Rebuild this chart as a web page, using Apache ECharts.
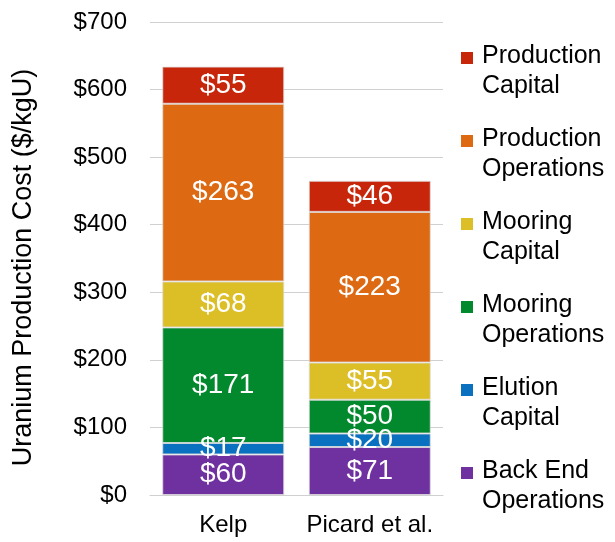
<!DOCTYPE html>
<html>
<head>
<meta charset="utf-8">
<script src="https://cdn.jsdelivr.net/npm/echarts@6/dist/echarts.min.js"></script>
<style>
  html, body { margin: 0; padding: 0; background: #fff; }
  #chart { width: 615px; height: 542px; }
</style>
</head>
<body>
<div id="chart"></div>
<script>
// categories
const categories = ['Kelp', 'Picard et al.'];

// series values, bottom of the stack first
const backEndOps = [60, 71];
const elutionCap = [17, 20];
const mooringOps = [171, 50];
const mooringCap = [68, 55];
const productionOps = [263, 223];
const productionCap = [55, 46];

const seriesNames = [
  'Back End Operations',
  'Elution Capital',
  'Mooring Operations',
  'Mooring Capital',
  'Production Operations',
  'Production Capital',
];
const seriesData = [backEndOps, elutionCap, mooringOps, mooringCap, productionOps, productionCap];
const colors = ['#7031a0', '#0a70c0', '#02882d', '#dcbe27', '#dd6a12', '#c8260a'];

// legend shows them top to bottom
const legendOrder = seriesNames.slice().reverse();

const font = 'Liberation Sans, Arial, sans-serif';

const chart = echarts.init(document.getElementById('chart'));

const series = seriesNames.map((name, i) => ({
  name: name,
  type: 'bar',
  stack: 'cost',
  barWidth: 122,
  data: seriesData[i],
  itemStyle: {
    color: colors[i],
    borderColor: 'rgba(220,220,220,0.8)',
    borderWidth: 1,
  },
  label: {
    show: true,
    position: 'inside',
    color: '#fff',
    fontSize: 28,
    fontFamily: font,
    textBorderWidth: 0,
    formatter: (p) => '$' + p.value,
  },
}));

chart.setOption({
  animation: false,
  grid: { left: 150, right: 172, top: 22, bottom: 47 },
  legend: {
    data: legendOrder,
    orient: 'vertical',
    left: 461,
    top: 41,
    padding: 0,
    itemGap: 23,
    itemWidth: 16,
    itemHeight: 60,
    // square near the first text line, invisible points stretch the box
    icon: 'path://M0,11 L12,11 L12,23 L0,23 Z M16,0 L16,0.01 M0,60 L0.01,60',
    itemStyle: { borderWidth: 0 },
    formatter: (name) => {
      const parts = name.split(' ');
      const first = parts.length > 2 ? parts.slice(0, 2).join(' ') : parts[0];
      const rest = parts.length > 2 ? parts.slice(2).join(' ') : parts.slice(1).join(' ');
      return first + '\n' + rest;
    },
    textStyle: {
      fontSize: 25,
      lineHeight: 30,
      color: '#000',
      fontFamily: font,
    },
  },
  xAxis: {
    type: 'category',
    data: categories,
    axisLine: { lineStyle: { color: '#d0d0d0' } },
    axisTick: { show: false },
    axisLabel: { interval: 0, fontSize: 24, color: '#000', fontFamily: font, margin: 18 },
  },
  yAxis: {
    type: 'value',
    min: 0,
    max: 700,
    interval: 100,
    name: 'Uranium Production Cost ($/kgU)',
    nameLocation: 'middle',
    nameGap: 113,
    nameTextStyle: { fontSize: 27, color: '#000', fontFamily: font, padding: [0, 18, 0, 0] },
    axisLine: { show: false },
    axisTick: { show: false },
    splitLine: { lineStyle: { color: '#d0d0d0' } },
    axisLabel: {
      fontSize: 24,
      color: '#000',
      fontFamily: font,
      margin: 23,
      formatter: (v) => '$' + v,
    },
  },
  series: series,
});
</script>
</body>
</html>
